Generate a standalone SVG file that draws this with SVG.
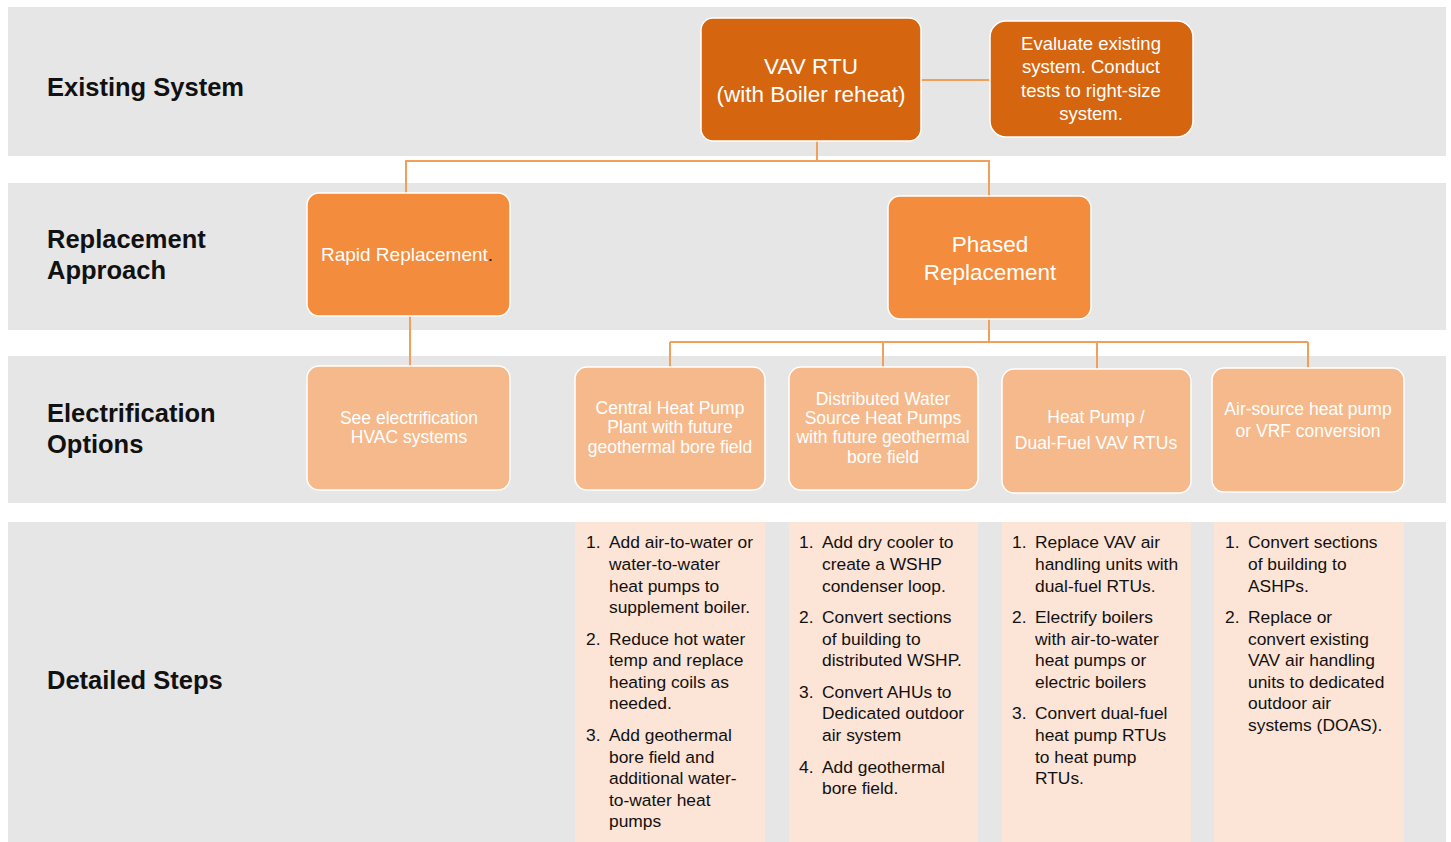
<svg xmlns="http://www.w3.org/2000/svg" width="1451" height="842" viewBox="0 0 1451 842">
<style>
.band{fill:#E6E6E6}
.lbl{font-family:"Liberation Sans",Arial,sans-serif;font-weight:bold;font-size:25.5px;fill:#111}
.n1{fill:#D5650F;stroke:#FFFFFF;stroke-width:1.5}
.n2{fill:#F38C3C;stroke:#FFFFFF;stroke-width:1.5}
.n3{fill:#F6B98B;stroke:#FFFFFF;stroke-width:1.5}
.steps{fill:#FCE4D6}
.wt{font-family:"Liberation Sans",Arial,sans-serif;fill:#FFFFFF;text-anchor:middle}
.st{font-family:"Liberation Sans",Arial,sans-serif;font-size:17.4px;fill:#111}
.conn{fill:none;stroke:#F0A05A;stroke-width:2}
</style>
<rect width="1451" height="842" fill="#FFFFFF"/>
<g id="bands">
<rect class="band" x="8" y="7" width="1438" height="149"/>
<rect class="band" x="8" y="183" width="1438" height="147"/>
<rect class="band" x="8" y="356" width="1438" height="147"/>
<rect class="band" x="8" y="522" width="1438" height="320"/>
</g>
<g id="labels">
<text class="lbl" x="47" y="96">Existing System</text>
<text class="lbl" x="47" y="248">Replacement</text>
<text class="lbl" x="47" y="279">Approach</text>
<text class="lbl" x="47" y="422">Electrification</text>
<text class="lbl" x="47" y="453">Options</text>
<text class="lbl" x="47" y="689">Detailed Steps</text>
</g>
<g id="connectors">
<path class="conn" d="M921 80 H990"/>
<path class="conn" d="M817 141 V161 H406 V193 M817 161 H989 V196"/>
<path class="conn" d="M410 316 V366"/>
<path class="conn" d="M989 319 V342 M670 342 H1308 M670 342 V367 M883 342 V367 M1097 342 V369 M1308 342 V368"/>
</g>
<g id="node-vav">
<rect class="n1" x="701" y="18" width="220" height="123" rx="12"/>
<text class="wt" font-size="22.5" x="811" y="74">VAV RTU</text>
<text class="wt" font-size="22.5" x="811" y="102">(with Boiler reheat)</text>
</g>
<g id="node-evaluate">
<rect class="n1" x="990" y="21" width="203" height="116" rx="16"/>
<text class="wt" font-size="18.5" x="1091" y="50">Evaluate existing</text>
<text class="wt" font-size="18.5" x="1091" y="73">system. Conduct</text>
<text class="wt" font-size="18.5" x="1091" y="97">tests to right-size</text>
<text class="wt" font-size="18.5" x="1091" y="120">system.</text>
</g>
<g id="node-rapid">
<rect class="n2" x="307" y="193" width="203" height="123" rx="12"/>
<text class="wt" font-size="19" x="407" y="261">Rapid Replacement<tspan fill="#222">.</tspan></text>
</g>
<g id="node-phased">
<rect class="n2" x="888" y="196" width="203" height="123" rx="12"/>
<text class="wt" font-size="22.5" x="990" y="252">Phased</text>
<text class="wt" font-size="22.5" x="990" y="280">Replacement</text>
</g>
<g id="node-see">
<rect class="n3" x="307" y="366" width="203" height="124" rx="12"/>
<text class="wt" font-size="17.5" x="409" y="424">See electrification</text>
<text class="wt" font-size="17.5" x="409" y="443">HVAC systems</text>
</g>
<g id="node-central">
<rect class="n3" x="575" y="367" width="190" height="123" rx="12"/>
<text class="wt" font-size="17.5" x="670" y="414">Central Heat Pump</text>
<text class="wt" font-size="17.5" x="670" y="433">Plant with future</text>
<text class="wt" font-size="17.5" x="670" y="453">geothermal bore field</text>
</g>
<g id="node-distributed">
<rect class="n3" x="789" y="367" width="189" height="123" rx="12"/>
<text class="wt" font-size="17.5" x="883" y="405">Distributed Water</text>
<text class="wt" font-size="17.5" x="883" y="424">Source Heat Pumps</text>
<text class="wt" font-size="17.5" x="883" y="443">with future geothermal</text>
<text class="wt" font-size="17.5" x="883" y="463">bore field</text>
</g>
<g id="node-heatpump">
<rect class="n3" x="1002" y="369" width="189" height="124" rx="12"/>
<text class="wt" font-size="17.5" x="1096" y="423">Heat Pump /</text>
<text class="wt" font-size="17.5" x="1096" y="449">Dual-Fuel VAV RTUs</text>
</g>
<g id="node-airsource">
<rect class="n3" x="1212" y="368" width="192" height="124" rx="12"/>
<text class="wt" font-size="17.5" x="1308" y="415">Air-source heat pump</text>
<text class="wt" font-size="17.5" x="1308" y="437">or VRF conversion</text>
</g>
<g id="steps-central">
<rect class="steps" x="575" y="522" width="190" height="320"/>
<text class="st"><tspan x="586" y="548">1.</tspan><tspan x="609" y="548">Add air-to-water or</tspan><tspan x="609" y="570">water-to-water</tspan><tspan x="609" y="592">heat pumps to</tspan><tspan x="609" y="613">supplement boiler.</tspan>
<tspan x="586" y="645">2.</tspan><tspan x="609" y="645">Reduce hot water</tspan><tspan x="609" y="666">temp and replace</tspan><tspan x="609" y="688">heating coils as</tspan><tspan x="609" y="709">needed.</tspan>
<tspan x="586" y="741">3.</tspan><tspan x="609" y="741">Add geothermal</tspan><tspan x="609" y="763">bore field and</tspan><tspan x="609" y="784">additional water-</tspan><tspan x="609" y="806">to-water heat</tspan><tspan x="609" y="827">pumps</tspan></text>
</g>
<g id="steps-distributed">
<rect class="steps" x="789" y="522" width="189" height="320"/>
<text class="st"><tspan x="799" y="548">1.</tspan><tspan x="822" y="548">Add dry cooler to</tspan><tspan x="822" y="570">create a WSHP</tspan><tspan x="822" y="592">condenser loop.</tspan>
<tspan x="799" y="623">2.</tspan><tspan x="822" y="623">Convert sections</tspan><tspan x="822" y="645">of building to</tspan><tspan x="822" y="666">distributed WSHP.</tspan>
<tspan x="799" y="698">3.</tspan><tspan x="822" y="698">Convert AHUs to</tspan><tspan x="822" y="719">Dedicated outdoor</tspan><tspan x="822" y="741">air system</tspan>
<tspan x="799" y="773">4.</tspan><tspan x="822" y="773">Add geothermal</tspan><tspan x="822" y="794">bore field.</tspan></text>
</g>
<g id="steps-heatpump">
<rect class="steps" x="1002" y="522" width="189" height="320"/>
<text class="st"><tspan x="1012" y="548">1.</tspan><tspan x="1035" y="548">Replace VAV air</tspan><tspan x="1035" y="570">handling units with</tspan><tspan x="1035" y="592">dual-fuel RTUs.</tspan>
<tspan x="1012" y="623">2.</tspan><tspan x="1035" y="623">Electrify boilers</tspan><tspan x="1035" y="645">with air-to-water</tspan><tspan x="1035" y="666">heat pumps or</tspan><tspan x="1035" y="688">electric boilers</tspan>
<tspan x="1012" y="719">3.</tspan><tspan x="1035" y="719">Convert dual-fuel</tspan><tspan x="1035" y="741">heat pump RTUs</tspan><tspan x="1035" y="763">to heat pump</tspan><tspan x="1035" y="784">RTUs.</tspan></text>
</g>
<g id="steps-airsource">
<rect class="steps" x="1214" y="522" width="190" height="320"/>
<text class="st"><tspan x="1225" y="548">1.</tspan><tspan x="1248" y="548">Convert sections</tspan><tspan x="1248" y="570">of building to</tspan><tspan x="1248" y="592">ASHPs.</tspan>
<tspan x="1225" y="623">2.</tspan><tspan x="1248" y="623">Replace or</tspan><tspan x="1248" y="645">convert existing</tspan><tspan x="1248" y="666">VAV air handling</tspan><tspan x="1248" y="688">units to dedicated</tspan><tspan x="1248" y="709">outdoor air</tspan><tspan x="1248" y="731">systems (DOAS).</tspan></text>
</g>
</svg>
